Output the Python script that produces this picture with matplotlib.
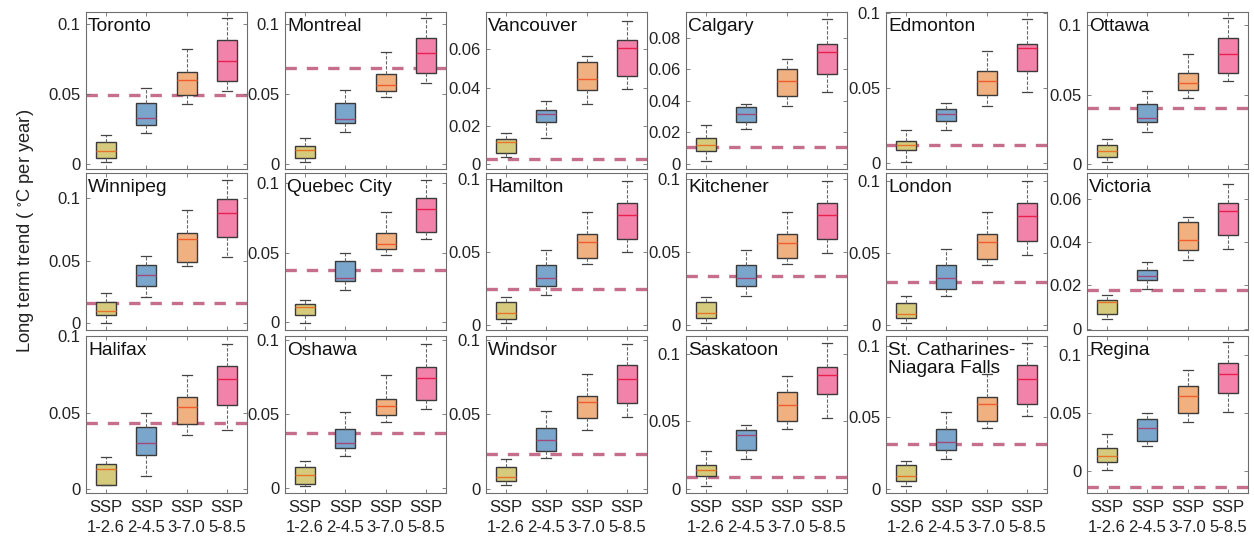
import matplotlib
matplotlib.use("Agg")
import matplotlib.pyplot as plt
from matplotlib.ticker import FormatStrFormatter, MultipleLocator

# ---------------------------------------------------------------------------
# Data
# ---------------------------------------------------------------------------
cities = [
    "Toronto", "Montreal", "Vancouver", "Calgary", "Edmonton", "Ottawa",
    "Winnipeg", "Quebec City", "Hamilton", "Kitchener", "London", "Victoria",
    "Halifax", "Oshawa", "Windsor", "Saskatoon",
    "St. Catharines-\nNiagara Falls", "Regina",
]
scenarios = ["SSP\n1-2.6", "SSP\n2-4.5", "SSP\n3-7.0", "SSP\n5-8.5"]

# per city, per scenario: (whisker low, q1, median, q3, whisker high)
box_stats = [
    [(0.0012, 0.0043, 0.0091, 0.0158, 0.0204), (0.0218, 0.0278, 0.0326, 0.0431, 0.0539),
     (0.0424, 0.0491, 0.0601, 0.0654, 0.0817), (0.0520, 0.0587, 0.0730, 0.0884, 0.1037)],
    [(0.0012, 0.0039, 0.0098, 0.0127, 0.0180), (0.0223, 0.0290, 0.0321, 0.0431, 0.0527),
     (0.0479, 0.0522, 0.0563, 0.0642, 0.0797), (0.0578, 0.0647, 0.0793, 0.0894, 0.1037)],
    [(0.0040, 0.0058, 0.0115, 0.0134, 0.0161), (0.0138, 0.0220, 0.0260, 0.0285, 0.0332),
     (0.0313, 0.0388, 0.0443, 0.0533, 0.0563), (0.0394, 0.0462, 0.0609, 0.0647, 0.0749)],
    [(0.0015, 0.0081, 0.0120, 0.0166, 0.0243), (0.0218, 0.0267, 0.0314, 0.0358, 0.0378),
     (0.0367, 0.0427, 0.0523, 0.0602, 0.0666), (0.0454, 0.0572, 0.0710, 0.0760, 0.0922)],
    [(0.0005, 0.0084, 0.0119, 0.0146, 0.0218), (0.0222, 0.0279, 0.0326, 0.0357, 0.0398),
     (0.0380, 0.0451, 0.0544, 0.0611, 0.0748), (0.0476, 0.0611, 0.0768, 0.0798, 0.0962)],
    [(0.0017, 0.0053, 0.0096, 0.0137, 0.0183), (0.0231, 0.0304, 0.0330, 0.0431, 0.0523),
     (0.0479, 0.0535, 0.0586, 0.0655, 0.0795), (0.0597, 0.0653, 0.0795, 0.0908, 0.1048)],
    [(0.0000, 0.0066, 0.0098, 0.0170, 0.0245), (0.0210, 0.0298, 0.0386, 0.0471, 0.0543),
     (0.0457, 0.0492, 0.0676, 0.0724, 0.0907), (0.0532, 0.0689, 0.0880, 0.0995, 0.1149)],
    [(-0.0010, 0.0050, 0.0108, 0.0132, 0.0158), (0.0228, 0.0294, 0.0319, 0.0438, 0.0498),
     (0.0481, 0.0529, 0.0565, 0.0642, 0.0790), (0.0600, 0.0649, 0.0814, 0.0890, 0.1024)],
    [(0.0016, 0.0043, 0.0080, 0.0157, 0.0193), (0.0202, 0.0266, 0.0318, 0.0407, 0.0516),
     (0.0414, 0.0459, 0.0566, 0.0620, 0.0770), (0.0498, 0.0586, 0.0755, 0.0832, 0.0986)],
    [(0.0016, 0.0046, 0.0080, 0.0157, 0.0193), (0.0198, 0.0266, 0.0318, 0.0409, 0.0516),
     (0.0414, 0.0459, 0.0561, 0.0620, 0.0773), (0.0489, 0.0591, 0.0755, 0.0834, 0.0986)],
    [(0.0017, 0.0047, 0.0079, 0.0156, 0.0201), (0.0201, 0.0253, 0.0324, 0.0419, 0.0531),
     (0.0415, 0.0461, 0.0581, 0.0635, 0.0785), (0.0486, 0.0588, 0.0757, 0.0850, 0.1005)],
    [(0.0046, 0.0066, 0.0123, 0.0132, 0.0154), (0.0185, 0.0223, 0.0246, 0.0270, 0.0309),
     (0.0317, 0.0366, 0.0409, 0.0492, 0.0515), (0.0370, 0.0435, 0.0543, 0.0581, 0.0669)],
    [(0.0026, 0.0031, 0.0130, 0.0167, 0.0211), (0.0085, 0.0222, 0.0305, 0.0407, 0.0498),
     (0.0354, 0.0426, 0.0536, 0.0605, 0.0746), (0.0385, 0.0552, 0.0722, 0.0804, 0.0950)],
    [(0.0014, 0.0030, 0.0091, 0.0142, 0.0183), (0.0217, 0.0274, 0.0308, 0.0400, 0.0515),
     (0.0447, 0.0497, 0.0553, 0.0605, 0.0766), (0.0538, 0.0599, 0.0748, 0.0820, 0.0978)],
    [(0.0022, 0.0051, 0.0078, 0.0145, 0.0197), (0.0208, 0.0255, 0.0324, 0.0409, 0.0521),
     (0.0391, 0.0474, 0.0581, 0.0624, 0.0767), (0.0481, 0.0577, 0.0732, 0.0832, 0.0973)],
    [(0.0022, 0.0096, 0.0140, 0.0182, 0.0280), (0.0221, 0.0292, 0.0398, 0.0440, 0.0477),
     (0.0444, 0.0506, 0.0619, 0.0717, 0.0833), (0.0525, 0.0700, 0.0845, 0.0900, 0.1078)],
    [(0.0018, 0.0051, 0.0086, 0.0164, 0.0194), (0.0211, 0.0274, 0.0328, 0.0422, 0.0538),
     (0.0426, 0.0473, 0.0597, 0.0644, 0.0808), (0.0508, 0.0597, 0.0773, 0.0867, 0.1022)],
    [(0.0009, 0.0080, 0.0129, 0.0204, 0.0319), (0.0222, 0.0265, 0.0377, 0.0451, 0.0503),
     (0.0425, 0.0503, 0.0649, 0.0733, 0.0871), (0.0511, 0.0678, 0.0842, 0.0934, 0.1115)],
]

# historical trend (dashed line) per city
hist_trend = [
    0.0491, 0.0685, 0.0026, 0.0107, 0.0117, 0.0407,
    0.0165, 0.0378, 0.0243, 0.0334, 0.0301, 0.0177,
    0.0432, 0.0373, 0.0235, 0.0091, 0.0311, -0.0135,
]

# axis limits and tick spacing per city
y_limits = [
    (-0.0038, 0.1083), (-0.0038, 0.1083), (-0.0025, 0.0795), (-0.0034, 0.0964),
    (-0.0042, 0.1009), (-0.0034, 0.1094),
    (-0.0053, 0.1203), (-0.0057, 0.1072), (-0.0034, 0.1039), (-0.0034, 0.1039),
    (-0.0035, 0.1058), (-0.0006, 0.0720),
    (-0.0024, 0.1000), (-0.0034, 0.1030), (-0.0030, 0.1024), (-0.0027, 0.1130),
    (-0.0030, 0.1072), (-0.0187, 0.1166),
]
tick_step = [
    0.05, 0.05, 0.02, 0.02, 0.05, 0.05,
    0.05, 0.05, 0.05, 0.05, 0.05, 0.02,
    0.05, 0.05, 0.05, 0.05, 0.05, 0.05,
]

# ---------------------------------------------------------------------------
# Style
# ---------------------------------------------------------------------------
plt.rcParams["font.family"] = ["Liberation Sans", "DejaVu Sans"]
plt.rcParams["mathtext.default"] = "regular"

fill_colors = ["#d6ca7c", "#7ba6cb", "#f0b080", "#f282a9"]
median_colors = ["#e8742c", "#a04a7a", "#f05c2c", "#e82050"]
edge_color = "#3a3a3a"
frame_color = "#6e6e6e"
dash_color = "#bf5f80"

W, H = 1254, 540
col_left = [86, 285, 486, 686, 886, 1087]
row_top = [12, 173, 336]
ax_w, ax_h = 161, 157

fig = plt.figure(figsize=(W / 100, H / 100), dpi=100)

for i, city in enumerate(cities):
    r, c = divmod(i, 6)
    rect = [col_left[c] / W, 1 - (row_top[r] + ax_h) / H, ax_w / W, ax_h / H]
    ax = fig.add_axes(rect)

    ax.axhline(hist_trend[i], color=dash_color, lw=2.4,
               ls=(0, (3.4, 3.0)), alpha=0.9, zorder=1)

    stats = []
    for lo, q1, med, q3, hi in box_stats[i]:
        stats.append(dict(whislo=lo, q1=q1, med=med, q3=q3, whishi=hi, fliers=[]))
    bp = ax.bxp(
        stats, positions=[1, 2, 3, 4], widths=0.5, patch_artist=True,
        showfliers=False, capwidths=0.25,
        boxprops=dict(edgecolor=edge_color, linewidth=1.0),
        whiskerprops=dict(color="#666666", linewidth=0.8, linestyle=(0, (3, 1.5))),
        capprops=dict(color="#444444", linewidth=0.9),
        medianprops=dict(linewidth=1.0),
    )
    for k, patch in enumerate(bp["boxes"]):
        patch.set_facecolor(fill_colors[k])
        patch.set_zorder(2)
    for k, med in enumerate(bp["medians"]):
        med.set_color(median_colors[k])
        med.set_zorder(3)

    ax.set_xlim(0.5, 4.5)
    ax.set_ylim(*y_limits[i])
    ax.yaxis.set_major_locator(MultipleLocator(tick_step[i]))
    ax.yaxis.set_major_formatter(FormatStrFormatter("%g"))
    ax.tick_params(direction="in", length=3, width=0.6, colors=frame_color,
                   labelcolor="#222222", labelsize=12,
                   top=True, right=True, pad=4)
    ax.set_xticks([1, 2, 3, 4])
    if r == 2:
        ax.set_xticklabels(scenarios, linespacing=1.45)
        ax.tick_params(axis="x", pad=5)
    else:
        ax.set_xticklabels([])
    for s in ax.spines.values():
        s.set_color(frame_color)
        s.set_linewidth(0.8)

    ax.text(0.012, 0.962, city, transform=ax.transAxes, ha="left", va="top",
            fontsize=13.8, color="#111111", linespacing=1.05, zorder=5)

fig.text(0.020, 0.572, "Long term trend ( $^{\\circ}$C per year)", rotation=90,
         ha="center", va="center", fontsize=13.2, color="#222222")

fig.savefig("out.png", dpi=100)
